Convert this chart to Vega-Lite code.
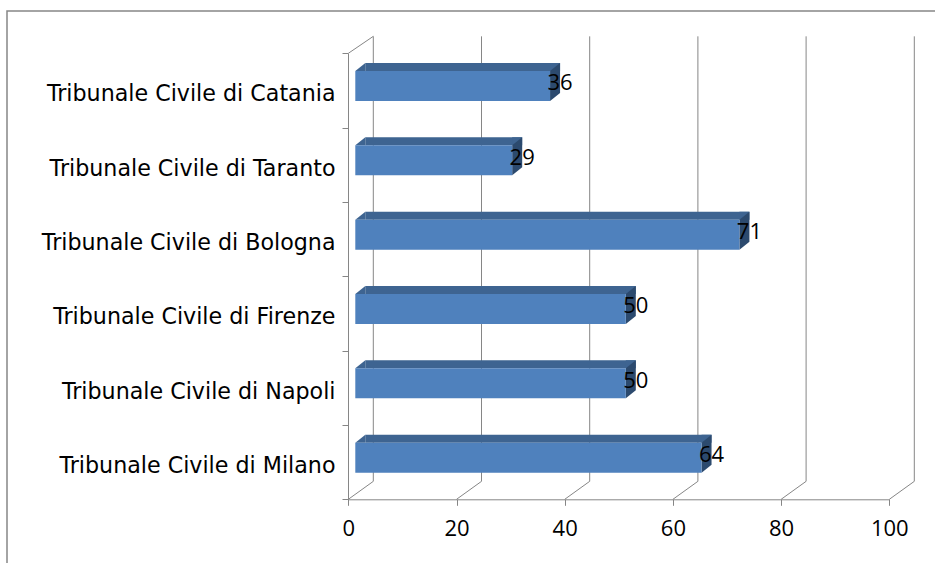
{
  "$schema": "https://vega.github.io/schema/vega-lite/v6.json",
  "width": 930,
  "height": 555,
  "autosize": {"type": "none"},
  "padding": {"left": 7, "top": 11, "right": -2, "bottom": -3},
  "background": "white",
  "view": {"stroke": "#868686", "strokeWidth": 1.5, "fill": "white"},
  "datasets": {
    "tribunali": [
      {"tribunale": "Tribunale Civile di Catania", "valore": 36},
      {"tribunale": "Tribunale Civile di Taranto", "valore": 29},
      {"tribunale": "Tribunale Civile di Bologna", "valore": 71},
      {"tribunale": "Tribunale Civile di Firenze", "valore": 50},
      {"tribunale": "Tribunale Civile di Napoli", "valore": 50},
      {"tribunale": "Tribunale Civile di Milano", "valore": 64}
    ],
    "griglia": [
      {"valore": 0, "tribunale": "Tribunale Civile di Milano"},
      {"valore": 20, "tribunale": "Tribunale Civile di Milano"},
      {"valore": 40, "tribunale": "Tribunale Civile di Milano"},
      {"valore": 60, "tribunale": "Tribunale Civile di Milano"},
      {"valore": 80, "tribunale": "Tribunale Civile di Milano"},
      {"valore": 100, "tribunale": "Tribunale Civile di Milano"}
    ]
  },
  "encoding": {
    "x": {
      "field": "valore",
      "type": "quantitative",
      "scale": {"domain": [0, 100], "range": [341.3, 882.3], "nice": false, "zero": true},
      "axis": {
        "title": null,
        "values": [0, 20, 40, 60, 80, 100],
        "offset": -66.7,
        "grid": false,
        "domainColor": "#868686",
        "domainWidth": 1,
        "tickColor": "#868686",
        "tickSize": 6,
        "labelFont": "Open Sans",
        "labelFontSize": 22,
        "labelColor": "#000000",
        "labelPadding": 13,
        "labelFlush": false,
        "labelOverlap": false,
        "zindex": 0
      }
    },
    "y": {
      "field": "tribunale",
      "type": "nominal",
      "scale": {
        "domain": [
          "Tribunale Civile di Catania",
          "Tribunale Civile di Taranto",
          "Tribunale Civile di Bologna",
          "Tribunale Civile di Firenze",
          "Tribunale Civile di Napoli",
          "Tribunale Civile di Milano"
        ],
        "range": [42.3, 488.3],
        "paddingInner": 0,
        "paddingOuter": 0
      },
      "axis": {
        "title": null,
        "offset": -341,
        "tickBand": "extent",
        "tickExtra": true,
        "domainColor": "#868686",
        "domainWidth": 1,
        "tickColor": "#868686",
        "tickSize": 6,
        "labelFont": "DejaVu Sans",
        "labelFontSize": 22.2,
        "labelColor": "#000000",
        "labelPadding": 7,
        "labelLimit": 330,
        "labelOffset": 3.5,
        "zindex": 0
      }
    }
  },
  "layer": [
    {
      "data": {"name": "griglia"},
      "mark": {
        "type": "point",
        "shape": "M0,0L25,-18L25,-463",
        "size": 4,
        "opacity": 1,
        "filled": false,
        "stroke": "#868686",
        "strokeWidth": 1,
        "yOffset": 37.2
      }
    },
    {
      "data": {"name": "griglia"},
      "transform": [{"filter": "datum.valore === 0"}],
      "mark": {
        "type": "point",
        "shape": "M0,-446L25,-463",
        "size": 4,
        "opacity": 1,
        "filled": false,
        "stroke": "#868686",
        "strokeWidth": 1,
        "yOffset": 37.2
      }
    },
    {
      "data": {"name": "tribunali"},
      "mark": {
        "type": "bar",
        "height": 8,
        "color": "#3E6491",
        "xOffset": 17,
        "x2Offset": 7,
        "yOffset": -23.5
      }
    },
    {
      "data": {"name": "tribunali"},
      "mark": {
        "type": "point",
        "shape": "M0,-15L10,-23L0,-23Z",
        "size": 4,
        "opacity": 1,
        "filled": true,
        "color": "#3E6491",
        "xOffset": 7,
        "yOffset": -4.5
      }
    },
    {
      "data": {"name": "tribunali"},
      "encoding": {"x": {"datum": 0}},
      "mark": {
        "type": "point",
        "shape": "M0,-15L10,-23L10,-15Z",
        "size": 4,
        "opacity": 1,
        "filled": true,
        "color": "#3E6491",
        "xOffset": 7,
        "yOffset": -4.5
      }
    },
    {
      "data": {"name": "tribunali"},
      "mark": {
        "type": "point",
        "shape": "M0,-15L10,-23L10,7L0,15Z",
        "size": 4,
        "opacity": 1,
        "filled": true,
        "color": "#2C4A6E",
        "xOffset": 7,
        "yOffset": -4.5
      }
    },
    {
      "data": {"name": "tribunali"},
      "mark": {
        "type": "bar",
        "height": 30,
        "color": "#4F81BD",
        "xOffset": 7,
        "x2Offset": 7,
        "yOffset": -4.5
      }
    },
    {
      "data": {"name": "tribunali"},
      "mark": {
        "type": "text",
        "font": "Open Sans",
        "fontSize": 22,
        "color": "#000000",
        "align": "center",
        "baseline": "middle",
        "xOffset": 17,
        "yOffset": -7
      },
      "encoding": {"text": {"field": "valore", "type": "quantitative"}}
    }
  ]
}
